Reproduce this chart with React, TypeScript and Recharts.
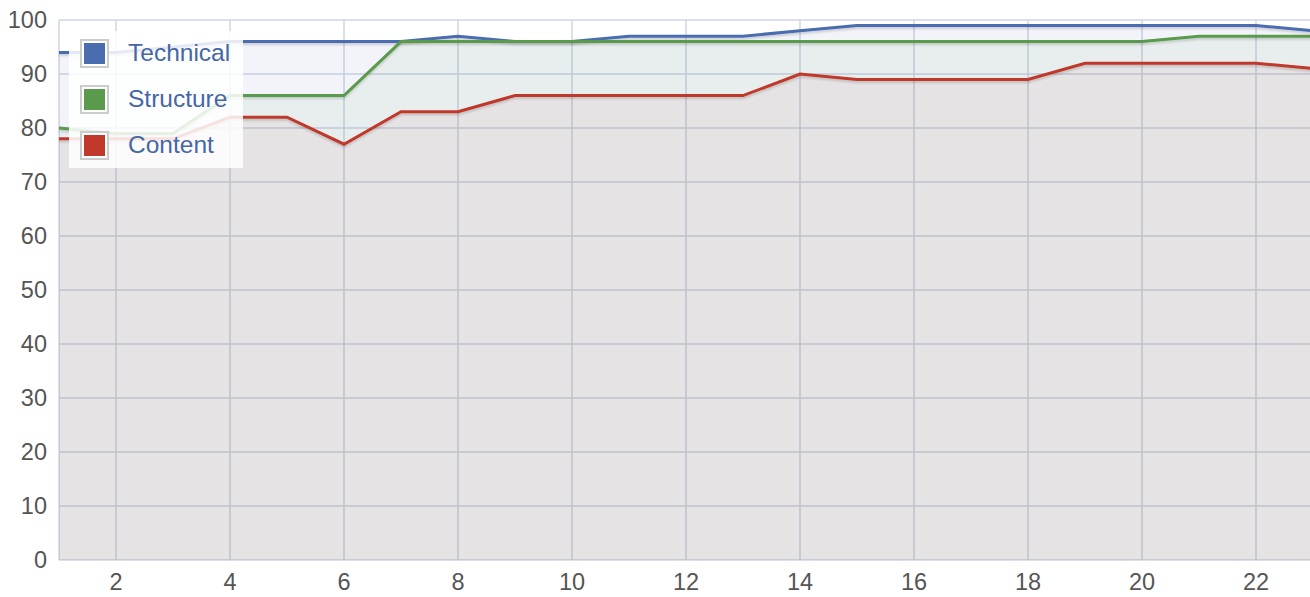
import {
  ComposedChart,
  Area,
  Line,
  CartesianGrid,
  XAxis,
  YAxis,
} from "recharts";

const days = [1, 2, 3, 4, 5, 6, 7, 8, 9, 10, 11, 12, 13, 14, 15, 16, 17, 18, 19, 20, 21, 22, 23];
const technical = [94, 94, 95, 96, 96, 96, 96, 97, 96, 96, 97, 97, 97, 98, 99, 99, 99, 99, 99, 99, 99, 99, 98];
const structure = [80, 79, 79, 86, 86, 86, 96, 96, 96, 96, 96, 96, 96, 96, 96, 96, 96, 96, 96, 96, 97, 97, 97];
const content = [78, 78, 78, 82, 82, 77, 83, 83, 86, 86, 86, 86, 86, 90, 89, 89, 89, 89, 92, 92, 92, 92, 91];
const xTicks = [2, 4, 6, 8, 10, 12, 14, 16, 18, 20, 22];
const yTicks = [0, 10, 20, 30, 40, 50, 60, 70, 80, 90, 100];

const series = [
  { key: "technical", name: "Technical", color: "#4a6db0", fill: 0.075 },
  { key: "structure", name: "Structure", color: "#5a9a4c", fill: 0.06 },
  { key: "content", name: "Content", color: "#c0392b", fill: 0.06 },
];

const data = days.map((d, i) => ({
  day: d,
  technical: technical[i],
  structure: structure[i],
  content: content[i],
}));

const font = "'Liberation Sans', Arial, Helvetica, sans-serif";

export default function App() {
  return (
    <div
      style={{
        position: "absolute",
        left: 0,
        top: 0,
        width: 1310,
        height: 597,
        overflow: "hidden",
        background: "#fff",
        fontFamily: font,
      }}
    >
      <ComposedChart
        width={1313}
        height={597}
        data={data}
        margin={{ top: 20, right: 0, bottom: 0, left: 0 }}
      >
        <defs>
          <filter id="shadow" x="-5%" y="-50%" width="110%" height="200%">
            <feDropShadow dx="0" dy="2" stdDeviation="1.2" floodColor="#000" floodOpacity="0.16" />
          </filter>
        </defs>
        <CartesianGrid stroke="#d0d6e6" strokeWidth={1.5} />
        <XAxis
          dataKey="day"
          type="number"
          domain={[1, 23]}
          ticks={xTicks}
          axisLine={false}
          tickLine={false}
          tickSize={0}
          tickMargin={13}
          height={37}
          tick={{ fill: "#555", fontSize: 23.5, fontFamily: font }}
        />
        <YAxis
          domain={[0, 100]}
          ticks={yTicks}
          axisLine={false}
          tickLine={false}
          tickSize={0}
          tickMargin={12}
          width={59}
          tick={{ fill: "#555", fontSize: 23.5, fontFamily: font }}
        />
        {series.map((s) => (
          <Area
            key={"a-" + s.key}
            type="linear"
            dataKey={s.key}
            stroke="none"
            fill={s.color}
            fillOpacity={s.fill}
            isAnimationActive={false}
            activeDot={false}
          />
        ))}
        {series.map((s) => (
          <Line
            key={"l-" + s.key}
            type="linear"
            dataKey={s.key}
            stroke={s.color}
            strokeWidth={3}
            dot={false}
            activeDot={false}
            filter="url(#shadow)"
            isAnimationActive={false}
          />
        ))}
      </ComposedChart>

      <div
        style={{
          position: "absolute",
          left: 69,
          top: 31,
          width: 174,
          height: 137,
          background: "rgba(255,255,255,0.85)",
        }}
      >
        {series.map((s, i) => (
          <div
            key={s.key}
            style={{
              position: "absolute",
              left: 0,
              top: 8 + i * 46,
              height: 28,
              display: "flex",
              alignItems: "center",
            }}
          >
            <div
              style={{
                marginLeft: 11,
                width: 21,
                height: 21,
                border: "2px solid #ccc",
                padding: 2,
                background: "#fff",
              }}
            >
              <div style={{ width: 21, height: 21, background: s.color }} />
            </div>
            <span
              style={{
                marginLeft: 19,
                fontSize: 24.5,
                color: "#4666a6",
                whiteSpace: "nowrap",
              }}
            >
              {s.name}
            </span>
          </div>
        ))}
      </div>
    </div>
  );
}
